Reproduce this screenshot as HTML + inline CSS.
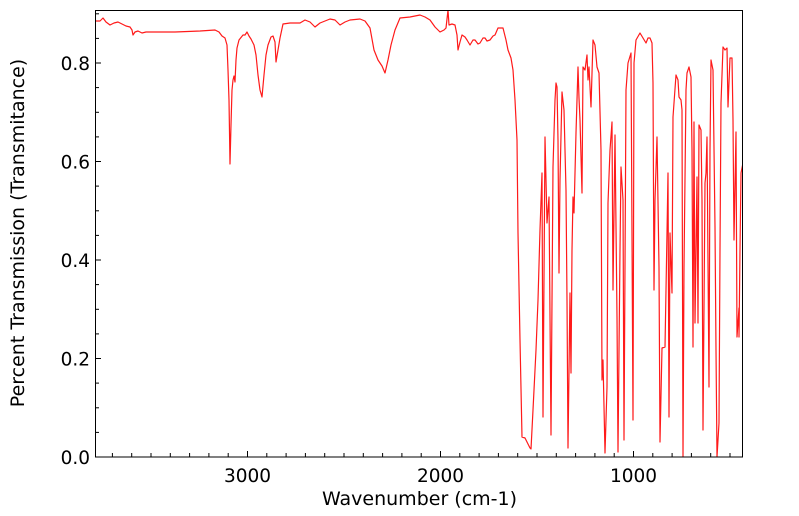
<!DOCTYPE html>
<html><head><meta charset="utf-8"><style>
html,body{margin:0;padding:0;background:#fff;}
svg{display:block;font-family:"DejaVu Sans","Liberation Sans",sans-serif;}
</style></head><body>
<svg width="799" height="516" viewBox="0 0 799 516" xmlns="http://www.w3.org/2000/svg">
<defs><clipPath id="c"><rect x="95" y="10" width="648" height="447"/></clipPath></defs>
<rect width="799" height="516" fill="#fff"/>
<g clip-path="url(#c)">
<polyline fill="none" stroke="#ff1a1a" stroke-width="1.2" stroke-linejoin="round" points="
95,21 100,21 103,18 106,22 110,25 114,23 118,22 122,24 126,26 130,27 132,30 133,35 135,32 138,31 140,32 142,33 146,32 150,32 175,32 200,31 215,30 219,32 222,36 225,38 227,45 228,70 229,100 230,164 231,125 232,90 233,80 234,76 235,82 236,60 237,48 239,40 243,35 245,35 247,32 249,36 251,39 254,45 256,55 258,75 260,90 262,97 264,75 266,55 268,45 271,37 273,36 275,42 276,62 278,50 280,38 283,24 290,23 300,23 305,20 310,22 315,27 320,23 330,19 335,20 340,25 345,22 350,20 360,19 365,21 370,28 374,50 378,60 382,66 385,73 388,60 391,45 395,30 400,18 410,17 415,16 420,15 425,17 430,20 435,27 440,32 444,30 446,28 448,10 449,25 452,24 455,25 457,35 458,50 460,42 462,35 465,37 467,40 470,45 473,40 475,40 478,44 480,43 483,38 485,38 487,41 490,40 493,36 495,35 498,28 500,28 503,28 506,40 508,50 511,58 513,70 515,100 517,140 518,233 520,340 522,437 525,438 527,442 530,448 531,449 533,410 536,350 538,300 540,230 542,173 543,417 545,137 547,223 549,197 551,435 553,167 555,100 556,83 557,87 558,140 559,273 560,180 562,92 564,110 566,190 567,300 568,448 570,293 571,373 572,250 573,197 574,213 576,133 578,67 579,98 580,120 582,193 583,67 585,70 587,55 588,80 589,67 591,107 593,40 595,45 597,67 599,73 601,150 602,380 603,360 605,453 607,387 608,203 610,150 612,122 613,290 615,135 617,317 618,452 620,250 621,167 623,200 624,440 626,90 628,63 631,53 633,420 634,63 636,40 640,33 643,38 646,43 648,38 650,38 652,43 653,83 654,290 655,200 657,137 659,267 660,442 662,348 665,347 667,233 668,173 669,417 670,233 672,293 673,117 676,75 678,80 679,97 681,100 682,110 683,457 684,267 686,90 687,73 689,67 691,77 692,150 693,347 694,122 695,323 697,177 698,323 699,125 701,130 702,200 703,430 705,183 706,173 707,137 709,387 710,150 711,60 713,70 715,227 716,350 717,457 719,423 720,250 721,103 723,47 725,50 727,48 728,107 730,58 732,58 733,120 734,240 736,132 737,337 739,308 739,337 740,250 741,173 743,163"/>
</g>
<rect x="95.5" y="10.5" width="647" height="446.5" fill="none" stroke="#000" stroke-width="1"/>
<g stroke="#000" stroke-width="1">
<line x1="95" y1="457" x2="101" y2="457"/><line x1="95" y1="358.5" x2="101" y2="358.5"/><line x1="95" y1="260" x2="101" y2="260"/><line x1="95" y1="161.5" x2="101" y2="161.5"/><line x1="95" y1="63" x2="101" y2="63"/>
<line x1="95" y1="432.4" x2="99" y2="432.4"/><line x1="95" y1="407.8" x2="99" y2="407.8"/><line x1="95" y1="383.1" x2="99" y2="383.1"/>
<line x1="95" y1="333.9" x2="99" y2="333.9"/><line x1="95" y1="309.3" x2="99" y2="309.3"/><line x1="95" y1="284.6" x2="99" y2="284.6"/>
<line x1="95" y1="235.4" x2="99" y2="235.4"/><line x1="95" y1="210.8" x2="99" y2="210.8"/><line x1="95" y1="186.1" x2="99" y2="186.1"/>
<line x1="95" y1="136.9" x2="99" y2="136.9"/><line x1="95" y1="112.3" x2="99" y2="112.3"/><line x1="95" y1="87.6" x2="99" y2="87.6"/>
<line x1="95" y1="38.4" x2="99" y2="38.4"/><line x1="95" y1="13.8" x2="99" y2="13.8"/>
<line x1="247.5" y1="457" x2="247.5" y2="451"/><line x1="440.5" y1="457" x2="440.5" y2="451"/><line x1="633.5" y1="457" x2="633.5" y2="451"/>
</g>
<g stroke="#000" stroke-width="1" id="mx"></g>
<script>
var g=document.getElementById('mx');
for(var w=3700;w>=500;w-=100){if(w%1000==0)continue;var x=247.5+(3000-w)*0.193;if(x<96||x>742)continue;
var l=document.createElementNS('http://www.w3.org/2000/svg','line');l.setAttribute('x1',x);l.setAttribute('x2',x);l.setAttribute('y1',457);l.setAttribute('y2',453);g.appendChild(l);}
</script>
<g font-size="18.5" fill="#000">
<text x="90" y="464" text-anchor="end">0.0</text>
<text x="90" y="365.5" text-anchor="end">0.2</text>
<text x="90" y="267" text-anchor="end">0.4</text>
<text x="90" y="168.5" text-anchor="end">0.6</text>
<text x="90" y="70" text-anchor="end">0.8</text>
<text x="247.5" y="482" text-anchor="middle">3000</text>
<text x="440.5" y="482" text-anchor="middle">2000</text>
<text x="633.5" y="482" text-anchor="middle">1000</text>
</g>
<text x="419.5" y="505" font-size="19" text-anchor="middle">Wavenumber (cm-1)</text>
<text transform="translate(24,233) rotate(-90)" font-size="19" text-anchor="middle">Percent Transmission (Transmitance)</text>
</svg>
</body></html>
